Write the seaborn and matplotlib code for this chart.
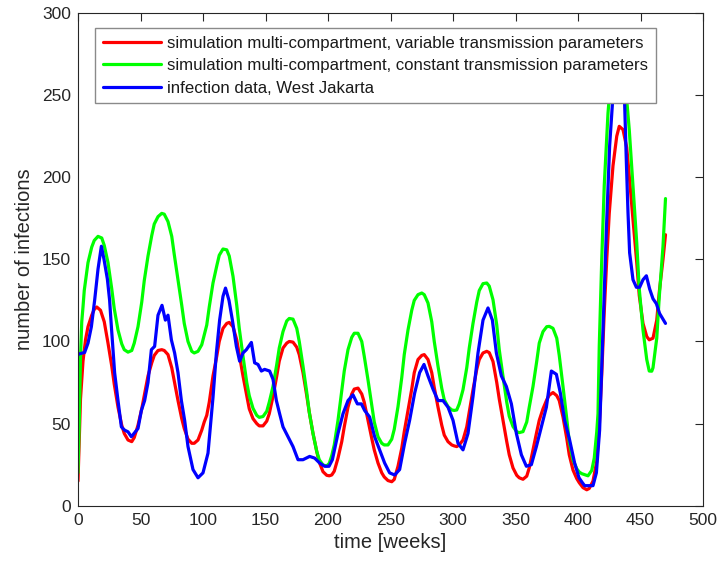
import numpy as np
import pandas as pd
import matplotlib
matplotlib.use("Agg")
import matplotlib.pyplot as plt
import seaborn as sns

# ---- data ----
red_t = [0, 1, 2, 4, 6, 8, 11, 13, 15, 18, 21, 24, 27, 29, 32, 35, 37, 40, 43, 45, 48, 51, 53, 56, 59, 61,
         64, 67, 69, 72, 75, 77, 80, 83, 85, 88, 91, 93, 96, 99, 101, 103, 105, 108, 111, 113, 116, 119, 121,
         124, 127, 129, 132, 135, 137, 140, 143, 145, 148, 151, 153, 156, 159, 161, 164, 167, 169, 172, 175,
         177, 180, 183, 185, 188, 191, 193, 196, 199, 201, 203, 205, 208, 211, 213, 216, 219, 221, 224, 227,
         229, 232, 235, 237, 240, 243, 245, 248, 251, 253, 256, 259, 261, 264, 267, 269, 272, 275, 277, 280,
         283, 285, 288, 291, 293, 296, 299, 301, 303, 305, 308, 311, 313, 316, 319, 321, 324, 327, 329, 332,
         335, 337, 340, 343, 345, 348, 351, 353, 356, 359, 361, 364, 367, 369, 372, 375, 377, 380, 383, 385,
         388, 391, 393, 396, 399, 401, 404, 407, 409, 412, 415, 417, 419, 421, 423, 425, 428, 431, 433, 436,
         439, 441, 444, 447, 449, 452, 455, 457, 460, 463, 465, 468, 470]
red_v = [15, 40, 65, 88, 101, 109, 116, 119.5, 121, 119, 112, 99, 85, 74, 60, 49, 44, 40, 39, 41.5, 49, 59, 67,
         79, 87, 91.5, 94.5, 95, 94.5, 92, 84, 76, 64, 53, 47, 40.5, 38, 38, 40, 46, 51, 55, 63, 79, 91, 100,
         108, 111, 111.6, 109, 101, 92, 79, 67, 59, 53, 50, 48.6, 48.6, 51.5, 56, 66.5, 79, 88, 96, 99, 100,
         99.6, 96.5, 92, 81, 67, 57, 44, 33, 26.5, 20.7, 18.5, 18.2, 18.7, 21, 29, 39, 48, 60, 68, 71, 71.6,
         68, 63, 52, 41, 34, 26, 20, 17.5, 15.3, 14.6, 16, 24, 35, 45, 58, 71, 81, 89, 91.5, 92, 89, 81, 72,
         60, 49, 43, 39, 37, 36.4, 36, 37, 40, 48, 57, 70.6, 83, 89, 93, 94, 93.2, 87.8, 75, 65, 52, 39, 31,
         23, 18.5, 17, 16.1, 18, 23, 34, 45, 52, 59, 64.5, 67.3, 68.9, 67, 64, 54, 41, 31, 21.7, 16.5, 14, 11,
         9.7, 10.5, 15, 27, 48, 80, 118, 150, 178, 207, 225, 231, 229, 218, 201, 174, 148, 128, 111, 103, 101,
         102, 113, 130, 150, 165]

green_t = [0, 1, 2, 3, 4, 5, 8, 11, 13, 16, 19, 21, 24, 27, 29, 32, 35, 37, 40, 43, 45, 48, 51, 53, 56, 59,
           61, 64, 67, 69, 72, 75, 77, 80, 83, 85, 88, 91, 93, 96, 99, 101, 103, 105, 108, 111, 113, 116, 119,
           121, 124, 127, 129, 132, 135, 137, 140, 143, 145, 148, 151, 153, 156, 159, 161, 164, 167, 169, 172,
           175, 177, 180, 183, 185, 188, 191, 193, 196, 199, 201, 203, 205, 208, 211, 213, 216, 219, 221, 224,
           227, 229, 232, 235, 237, 240, 243, 245, 248, 251, 253, 256, 259, 261, 264, 267, 269, 272, 275, 277,
           280, 283, 285, 288, 291, 293, 296, 299, 301, 303, 305, 308, 311, 313, 316, 319, 321, 324, 327, 329,
           332, 335, 337, 340, 343, 345, 348, 351, 353, 356, 359, 361, 364, 367, 369, 372, 375, 377, 380, 383,
           385, 388, 391, 393, 396, 399, 401, 403, 405, 408, 411, 413, 415, 416, 417, 419, 421, 424, 426, 428,
           431, 433, 435, 437, 439, 441, 444, 447, 449, 452, 455, 457, 459, 460, 463, 465, 468, 470]
green_v = [20, 50, 90, 112, 121, 131, 148, 157.5, 161.5, 164, 163, 158.5, 148, 132, 120, 107, 98.5, 95, 93.5,
           94.5, 99, 109, 124, 137, 152, 164.5, 171.5, 176, 178, 177.5, 173, 164, 153, 137.6, 122, 111, 100,
           94, 93, 94, 98, 104, 110, 121, 135.6, 146, 152.5, 156.3, 155.8, 152, 139.7, 122, 108, 91, 75, 67,
           59.3, 55, 53.8, 54.3, 57.5, 63, 72.6, 86, 96, 106, 112.5, 114, 113.6, 108, 100, 85, 69, 57, 44, 33,
           28, 24.8, 24.2, 25.8, 30.5, 37, 52, 70, 82, 95, 102.5, 105, 105, 100, 91, 76.6, 61, 51, 42, 38, 37,
           37, 40.5, 46.5, 60.3, 78, 92, 107, 119, 125, 128.5, 129.5, 128.5, 123.4, 112, 100, 85, 71.5, 64.5,
           60.3, 58.3, 58, 58.3, 62, 70.6, 84, 96, 111, 124, 131, 135.2, 135.6, 133.7, 125.4, 110, 95, 78.7, 63,
           54.5, 48.2, 45, 44.5, 45.1, 51, 60, 72.6, 88, 99, 106, 109, 109.2, 108, 102, 91.5, 72.6, 53, 39,
           27.8, 22.5, 20.5, 19.5, 19, 18.2, 21.5, 29, 45, 56, 97, 150, 195, 239, 258, 272, 280, 281, 276, 262,
           247, 229, 195, 160, 132, 107, 89, 82, 81.9, 84, 102, 127, 158, 187]

blue_t = [0, 1.3, 5.3, 8, 10.7, 13.3, 16, 18.7, 20.8, 23.5, 25.3, 26.7, 29.3, 32, 34.7, 37.3, 40, 42.7, 45.3,
          48, 50.7, 53.3, 56, 58.7, 61.3, 64, 67.2, 69.9, 72, 74.7, 77.3, 80, 82.7, 85.3, 88, 92, 96, 100, 104,
          108, 110.7, 113.3, 116, 118, 120.8, 123.5, 126.7, 129.3, 132, 134.7, 138.7, 141.3, 144, 146.7, 149.3,
          153.3, 156, 158.7, 161.3, 164, 168, 172, 176, 180, 185.3, 189.3, 193.3, 197.3, 200.8, 203.5, 208, 212,
          216, 220, 223.5, 226.7, 229.3, 233.3, 237.3, 241.3, 245.3, 249.3, 253.3, 257.3, 261.3, 265.3, 269.3,
          273.3, 276.8, 280, 284, 288, 292, 296, 300, 304, 308, 312, 316, 320, 324, 328, 331.5, 334.7, 338.7,
          342.7, 346.7, 350.7, 354.7, 358.7, 362.7, 366.7, 370.7, 374.7, 378.7, 382.7, 385.9, 389.3, 393.3,
          397.3, 400.8, 403.5, 405.3, 412, 414.7, 417.3, 420, 422.7, 425.3, 428, 430, 432, 434, 436, 437.3,
          438.7, 440, 441.3, 444, 446.7, 449.3, 452, 454.7, 457.3, 460, 462.7, 465.3, 470]
blue_v = [92, 92.5, 93.3, 99, 109, 125, 144, 158, 150, 138, 125, 109, 81, 64, 48, 46, 45, 42, 44.5, 47, 58,
          64, 75, 95, 97, 116, 122, 113, 116, 101, 93, 81, 64, 52, 36, 22, 17, 20, 32, 66, 93, 113, 127.5,
          132.5, 125, 113, 97, 88, 93, 95, 99.4, 87, 86, 82, 83, 82, 77, 64, 56, 48, 42, 36, 28, 28, 30, 29,
          26, 24, 24, 28, 44, 56, 64, 67.5, 62, 62, 58, 54, 42, 34, 26, 20, 18.7, 22, 38, 52, 68.5, 81, 86,
          79, 71, 64, 64, 60, 52, 38, 34, 44, 66.5, 93, 113, 120.4, 113, 93, 79, 72.6, 62, 44, 31, 24, 25, 36,
          48, 60, 82, 80, 68.5, 52, 40, 26, 17, 14, 12.2, 12.2, 20, 46, 107, 168, 219, 250, 262, 266, 262,
          255, 245, 209, 178.5, 154, 137.6, 133, 133, 137.6, 140, 132, 126, 123, 117, 111]

labels = ["simulation multi-compartment, variable transmission parameters",
          "simulation multi-compartment, constant transmission parameters",
          "infection data, West Jakarta"]
colors = ["#ff0000", "#00ff00", "#0000ff"]

x_ticks = [0, 50, 100, 150, 200, 250, 300, 350, 400, 450, 500]
y_ticks = [0, 50, 100, 150, 200, 250, 300]

# ---- plotting ----
sns.set_style("white")
plt.rcParams['font.family'] = ['Liberation Sans', 'DejaVu Sans']
axc = (0.15, 0.15, 0.15)

fig = plt.figure(figsize=(7.18, 5.72), dpi=100)
ax = fig.add_axes([78/718, 1 - 505.7/572, (703 - 78)/718, (505.7 - 13)/572])

series = [(red_t, red_v), (green_t, green_v), (blue_t, blue_v)]
for (t, v), lab, c in zip(series, labels, colors):
    df = pd.DataFrame({"t": t, "v": v})
    sns.lineplot(data=df, x="t", y="v", color=c, lw=2.3, label=lab, ax=ax,
                 estimator=None, sort=False)

ax.set_xlim(0, 500)
ax.set_ylim(0, 300)
ax.set_xticks(x_ticks)
ax.set_yticks(y_ticks)
ax.tick_params(direction="in", length=6, width=0.8, colors=axc, labelsize=12.5,
               top=True, right=True, labelcolor=axc, pad=5)
for s in ax.spines.values():
    s.set_visible(True)
    s.set_color(axc)
    s.set_linewidth(0.8)
ax.set_xlabel("time [weeks]", fontsize=14.5, color=axc, labelpad=4)
ax.set_ylabel("number of infections", fontsize=14.5, color=axc, labelpad=6)

leg = ax.legend(loc="upper left", bbox_to_anchor=((95 - 78)/625, (505.7 - 28)/492.7),
                borderaxespad=0, fontsize=12.1, frameon=True, fancybox=False,
                framealpha=1, edgecolor="#8a8a8a", handlelength=3.5, handletextpad=0.35,
                labelspacing=0.45, borderpad=0.45)
leg.get_frame().set_linewidth(1.0)
for txt in leg.get_texts():
    txt.set_color("#1a1a1a")

fig.savefig("out.png", dpi=100)
